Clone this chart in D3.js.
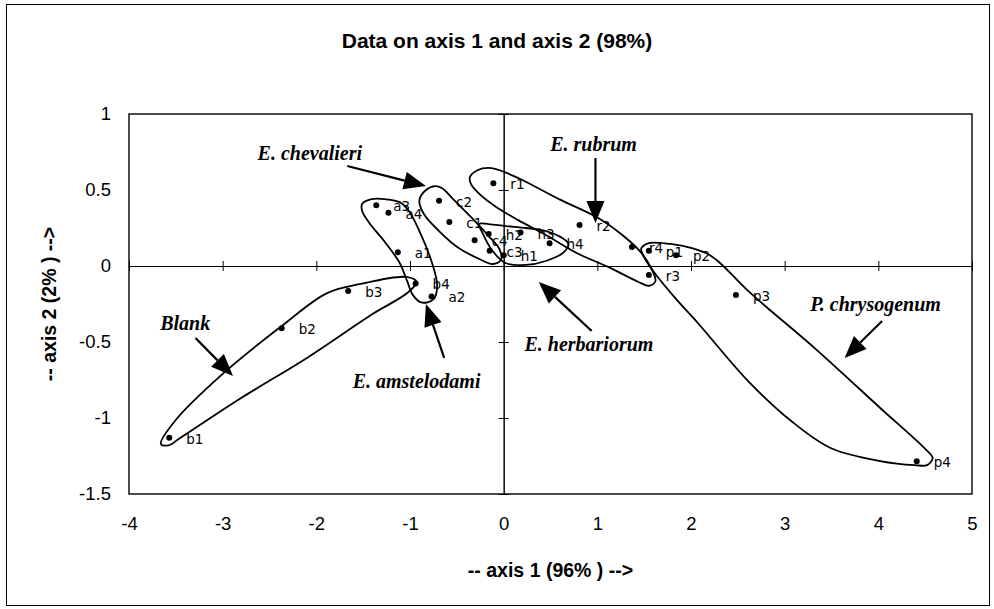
<!DOCTYPE html>
<html>
<head>
<meta charset="utf-8">
<script src="https://cdn.jsdelivr.net/npm/d3@7"></script>
<style>
  body { margin: 0; background: #fff; }
  svg { display: block; }
  .tick text { font-family: "Liberation Sans", Arial, sans-serif; font-size: 18.5px; fill: #000; }
</style>
</head>
<body>
<svg id="chart" width="994" height="609"></svg>
<script>
// axis ticks
const xTicks = [-4, -3, -2, -1, 0, 1, 2, 3, 4, 5];
const yTicks = [-1.5, -1, -0.5, 0, 0.5, 1];

// sample points (axis 1, axis 2)
const pointNames = ['a1','a2','a3','a4','b1','b2','b3','b4','c1','c2','c3','c4',
                    'h1','h2','h3','h4','r1','r2','r3','r4','p1','p2','p3','p4'];
const axis1 = [-1.13, -0.77, -1.36, -1.23, -3.57, -2.37, -1.66, -0.94, -0.58, -0.69, -0.15, -0.31,
               0.00, -0.16, 0.18, 0.49, -0.11, 0.81, 1.55, 1.37, 1.55, 1.84, 2.48, 4.41];
const axis2 = [0.09, -0.20, 0.40, 0.35, -1.13, -0.41, -0.165, -0.115, 0.29, 0.43, 0.10, 0.17,
               0.07, 0.21, 0.22, 0.15, 0.545, 0.27, -0.06, 0.125, 0.10, 0.07, -0.19, -1.285];

// hand drawn group outlines, in axis units
const loopBlank = [[-3.66,-1.17],[-3.51,-1.02],[-3.00,-0.71],[-2.37,-0.395],[-1.89,-0.18],[-1.54,-0.12],
  [-1.04,-0.072],[-0.93,-0.105],[-1.03,-0.178],[-1.40,-0.316],[-2.10,-0.605],[-2.82,-0.875],[-3.45,-1.13],[-3.58,-1.18]];
const loopAmst = [[-1.51,0.41],[-1.41,0.44],[-1.27,0.44],[-1.11,0.42],[-1.01,0.36],[-0.90,0.23],[-0.77,0.03],
  [-0.71,-0.13],[-0.75,-0.22],[-0.88,-0.24],[-0.97,-0.19],[-1.03,-0.10],[-1.11,0.02],[-1.27,0.16],[-1.43,0.28],[-1.51,0.36]];
const loopChev = [[-0.73,0.526],[-0.83,0.50],[-0.90,0.43],[-0.85,0.34],[-0.69,0.23],[-0.48,0.118],[-0.26,0.046],
  [-0.12,0.013],[-0.03,0.04],[-0.04,0.105],[-0.16,0.197],[-0.34,0.316],[-0.55,0.447],[-0.66,0.513]];
const loopHerb = [[-0.26,0.276],[-0.16,0.276],[0.02,0.263],[0.24,0.25],[0.45,0.23],[0.61,0.19],[0.69,0.145],
  [0.64,0.09],[0.45,0.033],[0.24,0.007],[0.02,0.02],[-0.12,0.10],[-0.22,0.21]];
const loopRubr = [[-0.36,0.585],[-0.28,0.63],[-0.16,0.645],[-0.02,0.625],[0.24,0.553],[0.59,0.44],[1.01,0.316],
  [1.28,0.197],[1.47,0.086],[1.58,-0.02],[1.62,-0.10],[1.55,-0.13],[1.44,-0.105],[1.12,-0.007],[0.80,0.079],
  [0.45,0.204],[0.16,0.30],[-0.08,0.388],[-0.26,0.474],[-0.35,0.54]];
const loopChry = [[1.47,0.118],[1.55,0.151],[1.78,0.145],[2.01,0.118],[2.18,0.079],[2.31,0.02],[2.61,-0.164],
  [3.32,-0.54],[4.02,-0.934],[4.49,-1.197],[4.58,-1.263],[4.52,-1.31],[4.39,-1.31],[4.02,-1.283],[3.49,-1.197],
  [3.07,-1.02],[2.61,-0.757],[2.08,-0.38],[1.83,-0.21],[1.62,-0.053],[1.51,0.046],[1.47,0.099]];

// species callouts: label position, arrow start, arrow tip
const calloutNames = ['E. chevalieri', 'E. rubrum', 'Blank', 'E. amstelodami', 'E. herbariorum', 'P. chrysogenum'];
const calloutText = [[-2.07,0.743],[0.96,0.80],[-3.40,-0.375],[-0.93,-0.757],[0.91,-0.513],[3.97,-0.25]];
const calloutFrom = [[-1.67,0.658],[0.98,0.71],[-3.29,-0.474],[-0.635,-0.605],[0.94,-0.428],[4.04,-0.362]];
const calloutTo = [[-0.83,0.526],[0.98,0.283],[-2.89,-0.724],[-0.83,-0.25],[0.375,-0.105],[3.64,-0.605]];

const svg = d3.select('#chart');
const margin = { left: 129, right: 22, top: 114, bottom: 115 };
const W = 994, H = 609;

const x = d3.scaleLinear().domain([-4, 5]).range([margin.left, W - margin.right]);
const y = d3.scaleLinear().domain([-1.5, 1]).range([H - margin.bottom, margin.top]);

// outer frame
svg.append('rect')
  .attr('x', 6.5).attr('y', 4.5).attr('width', 983).attr('height', 601)
  .attr('fill', 'none').attr('stroke', '#000').attr('stroke-width', 1);

svg.append('text')
  .attr('x', 497).attr('y', 48)
  .attr('text-anchor', 'middle')
  .style('font-family', '"Liberation Sans", Arial, sans-serif')
  .style('font-weight', 'bold').style('font-size', '21px')
  .text('Data on axis 1 and axis 2 (98%)');

// plot box
svg.append('rect')
  .attr('x', x(-4)).attr('y', y(1))
  .attr('width', x(5) - x(-4)).attr('height', y(-1.5) - y(1))
  .attr('fill', 'none').attr('stroke', '#000').attr('stroke-width', 1.4);

// tick labels along the bottom and left
svg.append('g')
  .attr('transform', `translate(0,${y(-1.5) + 20})`)
  .call(d3.axisBottom(x).tickValues(xTicks).tickSize(0).tickFormat(d => String(d)))
  .call(g => g.select('.domain').remove());

svg.append('g')
  .attr('transform', `translate(${x(-4) - 15},0)`)
  .call(d3.axisLeft(y).tickValues(yTicks).tickSize(0).tickFormat(d => String(d)))
  .call(g => g.select('.domain').remove());

// crossing axes at zero with ticks through the line
const zeroX = svg.append('g').attr('transform', `translate(0,${y(0)})`);
zeroX.call(d3.axisBottom(x).tickValues(xTicks).tickSize(5).tickSizeOuter(0).tickFormat(''));
zeroX.append('g').call(d3.axisTop(x).tickValues(xTicks).tickSize(5).tickSizeOuter(0).tickFormat(''));
const zeroY = svg.append('g').attr('transform', `translate(${x(0)},0)`);
zeroY.call(d3.axisLeft(y).tickValues(yTicks).tickSize(5).tickSizeOuter(0).tickFormat(''));
zeroY.append('g').call(d3.axisRight(y).tickValues(yTicks).tickSize(5).tickSizeOuter(0).tickFormat(''));
svg.selectAll('.domain, .tick line').attr('stroke', '#000');

// axis titles
svg.append('text')
  .attr('x', (x(-4) + x(5)) / 2).attr('y', 577)
  .attr('text-anchor', 'middle')
  .style('font-family', '"Liberation Sans", Arial, sans-serif')
  .style('font-weight', 'bold').style('font-size', '19.5px')
  .text('-- axis 1 (96% ) -->');

svg.append('text')
  .attr('transform', `translate(56,${(y(1) + y(-1.5)) / 2}) rotate(-90)`)
  .attr('text-anchor', 'middle')
  .style('font-family', '"Liberation Sans", Arial, sans-serif')
  .style('font-weight', 'bold').style('font-size', '19.5px')
  .text('-- axis 2 (2% ) -->');

// group loops
const loopLine = d3.line()
  .x(d => x(d[0])).y(d => y(d[1]))
  .curve(d3.curveCatmullRomClosed.alpha(0.5));
[loopBlank, loopAmst, loopChev, loopHerb, loopRubr, loopChry].forEach(loop => {
  svg.append('path').attr('d', loopLine(loop))
    .attr('fill', 'none').attr('stroke', '#000').attr('stroke-width', 1.8);
});

// points and their names
const pts = pointNames.map((n, i) => ({ name: n, a1: axis1[i], a2: axis2[i] }));
svg.selectAll('circle.pt').data(pts).enter().append('circle')
  .attr('class', 'pt')
  .attr('cx', d => x(d.a1)).attr('cy', d => y(d.a2)).attr('r', 3)
  .attr('fill', '#000');
svg.selectAll('text.pt').data(pts).enter().append('text')
  .attr('class', 'pt')
  .attr('x', d => x(d.a1) + 17).attr('y', d => y(d.a2) + 6)
  .style('font-family', '"DejaVu Sans", Verdana, sans-serif')
  .style('font-size', '13.5px')
  .text(d => d.name);

// callouts with arrows
calloutNames.forEach((name, i) => {
  const x0 = x(calloutFrom[i][0]), y0 = y(calloutFrom[i][1]);
  const x1 = x(calloutTo[i][0]), y1 = y(calloutTo[i][1]);
  const ang = Math.atan2(y1 - y0, x1 - x0);
  const len = 22, half = 9;
  const bx = x1 - len * Math.cos(ang), by = y1 - len * Math.sin(ang);
  svg.append('line')
    .attr('x1', x0).attr('y1', y0).attr('x2', bx).attr('y2', by)
    .attr('stroke', '#000').attr('stroke-width', 2.2);
  svg.append('path')
    .attr('d', `M${x1},${y1}L${bx + half * Math.sin(ang)},${by - half * Math.cos(ang)}L${bx - half * Math.sin(ang)},${by + half * Math.cos(ang)}Z`)
    .attr('fill', '#000');
  svg.append('text')
    .attr('x', x(calloutText[i][0])).attr('y', y(calloutText[i][1]) + 7)
    .attr('text-anchor', 'middle')
    .style('font-family', '"Liberation Serif", "Times New Roman", serif')
    .style('font-weight', 'bold').style('font-style', 'italic').style('font-size', '20px')
    .text(name);
});
</script>
</body>
</html>
